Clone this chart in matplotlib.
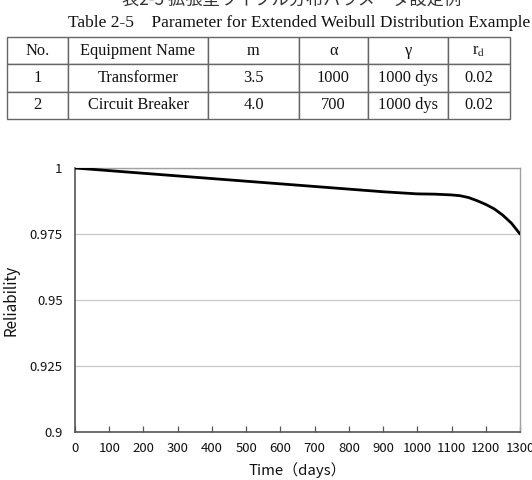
import matplotlib
matplotlib.use("Agg")
import matplotlib.pyplot as plt

# ---- data ----
time_days = [0, 100, 200, 300, 400, 500, 600, 700, 800, 900, 1000,
             1050, 1100, 1125, 1150, 1175, 1200, 1225, 1250, 1275, 1300]
reliability = [1.0, 0.999, 0.998, 0.997, 0.996, 0.995, 0.994, 0.993, 0.992, 0.991, 0.9902,
               0.9901, 0.9898, 0.9895, 0.9888, 0.9876, 0.9862, 0.9845, 0.9821, 0.9791, 0.975]
x_ticks = [0, 100, 200, 300, 400, 500, 600, 700, 800, 900, 1000, 1100, 1200, 1300]
y_ticks = [0.9, 0.925, 0.95, 0.975, 1.0]
y_tick_labels = ["0.9", "0.925", "0.95", "0.975", "1"]

table_header = ["No.", "Equipment Name", "m", "α", "γ", r"r$_\mathrm{d}$"]
table_rows = [["1", "Transformer", "3.5", "1000", "1000 dys", "0.02"],
              ["2", "Circuit Breaker", "4.0", "700", "1000 dys", "0.02"]]
col_widths = [61, 140, 91, 69, 80, 62]

title_jp = "表2-5 拡張型ワイブル分布パラメータ設定例"
title_en = "Table 2-5    Parameter for Extended Weibull Distribution Example"

W, H = 532, 480
plt.rcParams["mathtext.fontset"] = "stix"
fig = plt.figure(figsize=(W / 100, H / 100), dpi=100)

def fx(px):
    return px / W

def fy(py):
    return 1 - py / H

serif = ["Liberation Serif", "DejaVu Serif"]
sans_jp = ["Noto Sans CJK JP", "DejaVu Sans"]

# titles
fig.text(fx(292), fy(10), title_jp, ha="center", va="bottom", fontsize=12.4,
         family=sans_jp, color="#333333")
fig.text(fx(299), fy(23), title_en, ha="center", va="center", fontsize=12.5,
         family=serif, color="#111111")

# table
tleft, tright, ttop, tbot = 7, 510, 37, 119
tax = fig.add_axes([fx(tleft), fy(tbot), fx(tright - tleft), (tbot - ttop) / H])
tax.axis("off")
tot = sum(col_widths)
tbl = tax.table(cellText=table_rows, colLabels=table_header, cellLoc="center",
                colWidths=[c / tot for c in col_widths], bbox=[0, 0, 1, 1])
tbl.auto_set_font_size(False)
for (r, c), cell in tbl.get_celld().items():
    cell.set_edgecolor("#666666")
    cell.set_linewidth(1.0)
    cell.get_text().set_fontsize(11.8)
    cell.get_text().set_family(serif)
    cell.get_text().set_color("#111111")

# chart
aleft, aright, atop, abot = 75, 520, 168, 432
ax = fig.add_axes([fx(aleft), fy(abot), fx(aright - aleft), (abot - atop) / H])
ax.plot(time_days, reliability, color="black", lw=2.0, solid_capstyle="round", zorder=3)
ax.set_xlim(0, 1300)
ax.set_ylim(0.9, 1.0)
ax.set_xticks(x_ticks)
ax.set_yticks(y_ticks)
ax.set_yticklabels(y_tick_labels)
ax.yaxis.grid(True, color="#c8c8c8", lw=0.9)
ax.set_axisbelow(True)
ax.tick_params(axis="x", direction="in", length=4, width=0.9, color="#555555",
               labelsize=9.5, pad=7)
ax.tick_params(axis="y", length=0, labelsize=9.5, pad=9)
for lab in ax.get_xticklabels() + ax.get_yticklabels():
    lab.set_family(sans_jp)
    lab.set_color("#111111")
for s in ["top", "right"]:
    ax.spines[s].set_color("#a0a0a0")
    ax.spines[s].set_linewidth(1.0)
for s in ["left", "bottom"]:
    ax.spines[s].set_color("#555555")
    ax.spines[s].set_linewidth(1.2)
ax.set_xlabel("Time（days）", family=sans_jp, fontsize=10.8, color="#111111", labelpad=5)
ax.set_ylabel("Reliability", family=sans_jp, fontsize=11, color="#111111", labelpad=7)

fig.savefig("out.png", dpi=100)
